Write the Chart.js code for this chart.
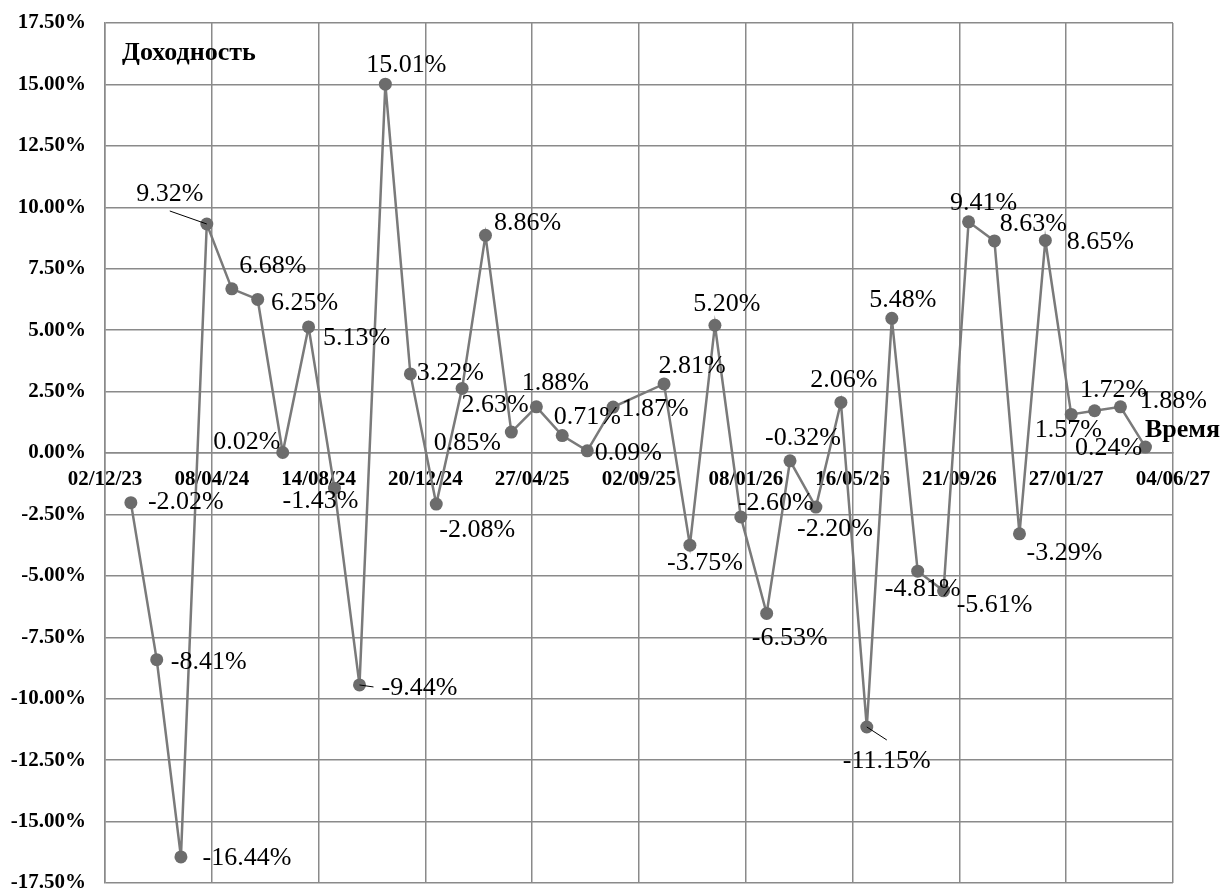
<!DOCTYPE html>
<html>
<head>
<meta charset="utf-8">
<script src="https://cdn.jsdelivr.net/npm/chart.js@4.4.1/dist/chart.umd.min.js"></script>
<style>
  body { margin: 0; background: #fff; }
</style>
</head>
<body>
<canvas id="chart" width="1220" height="891"></canvas>
<script>
// axis dates (every 128 days) and the monthly observations
const tickDates = ['02/12/23', '08/04/24', '14/08/24', '20/12/24', '27/04/25', '02/09/25',
                   '08/01/26', '16/05/26', '21/09/26', '27/01/27', '04/06/27'];
const pointDates = ['02/01/24', '02/02/24', '02/03/24', '02/04/24', '02/05/24', '02/06/24',
                    '02/07/24', '02/08/24', '02/09/24', '02/10/24', '02/11/24', '02/12/24',
                    '02/01/25', '02/02/25', '02/03/25', '02/04/25', '02/05/25', '02/06/25',
                    '02/07/25', '02/08/25', '02/10/25', '02/11/25', '02/12/25', '02/01/26',
                    '02/02/26', '02/03/26', '02/04/26', '02/05/26', '02/06/26', '02/07/26',
                    '02/08/26', '02/09/26', '02/10/26', '02/11/26', '02/12/26', '02/01/27',
                    '02/02/27', '02/03/27', '02/04/27', '02/05/27'];
const returns = [-2.02, -8.41, -16.44, 9.32, 6.68, 6.25, 0.02, 5.13, -1.43, -9.44,
                 15.01, 3.22, -2.08, 2.63, 8.86, 0.85, 1.88, 0.71, 0.09, 1.87,
                 2.81, -3.75, 5.20, -2.60, -6.53, -0.32, -2.20, 2.06, -11.15, 5.48,
                 -4.81, -5.61, 9.41, 8.63, -3.29, 8.65, 1.57, 1.72, 1.88, 0.24];

// where each value label sits relative to its point (like the hand-moved excel labels)
const labelShift = [[55, 0], [52, 3], [66, 1], [-37, -30], [41, -23], [47, 4], [-36, -10], [48, 11],
                    [-14, 13], [60, 3], [21, -19], [40, -1], [41, 26], [33, 17], [42, -12], [-44, 11],
                    [19, -24], [25, -18], [41, 2], [42, 2], [28, -18], [15, 18], [12, -21], [35, -14],
                    [23, 25], [13, -23], [19, 22], [3, -22], [20, 34], [11, -18], [5, 18], [51, 14],
                    [15, -19], [39, -17], [45, 19], [55, 2], [-3, 16], [19, -21], [53, -6], [-37, 1]];
// small leader lines from point to label
const leaders = { 3: [-37, -13], 9: [14, 2], 28: [20, 13] };

const serif = '"Liberation Serif", "Times New Roman", serif';
const gridGray = '#8a8a8a';

function toDay(s) {
  const [d, m, y] = s.split('/').map(Number);
  return Date.UTC(2000 + y, m - 1, d) / 86400000;
}
const day0 = toDay(tickDates[0]);

const pointLabels = {
  id: 'pointLabels',
  afterDatasetsDraw(chart) {
    const c = chart.ctx;
    const pts = chart.getDatasetMeta(0).data;
    c.save();
    c.strokeStyle = '#000';
    c.lineWidth = 1;
    Object.keys(leaders).forEach(k => {
      const p = pts[k];
      c.beginPath();
      c.moveTo(p.x, p.y);
      c.lineTo(p.x + leaders[k][0], p.y + leaders[k][1]);
      c.stroke();
    });
    c.font = '26px ' + serif;
    c.fillStyle = '#000';
    c.textAlign = 'center';
    c.textBaseline = 'middle';
    pts.forEach((p, i) => {
      c.fillText(returns[i].toFixed(2) + '%', p.x + labelShift[i][0], p.y + labelShift[i][1]);
    });
    // axis titles inside the plot
    c.font = 'bold 26px ' + serif;
    c.textAlign = 'left';
    c.fillText('Доходность', chart.chartArea.left + 17, 53);
    c.fillText('Время', 1145, chart.scales.y.getPixelForValue(0) - 23);
    c.restore();
  }
};

const ctx = document.getElementById('chart').getContext('2d');
new Chart(ctx, {
  type: 'line',
  data: {
    datasets: [{
      data: pointDates.map((d, i) => ({ x: toDay(d) - day0, y: returns[i] })),
      borderColor: '#7a7a7a',
      borderWidth: 2.5,
      pointRadius: 6.5,
      pointBackgroundColor: '#6c6c6c',
      pointBorderWidth: 0,
      tension: 0
    }]
  },
  options: {
    responsive: false,
    animation: false,
    layout: { padding: { left: 0, top: 23, right: 47, bottom: 8 } },
    plugins: { legend: { display: false }, tooltip: { enabled: false } },
    scales: {
      x: {
        type: 'linear',
        position: { y: 0 },
        min: 0,
        max: toDay(tickDates[tickDates.length - 1]) - day0,
        afterBuildTicks: s => { s.ticks = tickDates.map(t => ({ value: toDay(t) - day0 })); },
        afterFit: s => { s.paddingLeft = 0; s.paddingRight = 0; },
        ticks: {
          callback: (v, i) => tickDates[i],
          autoSkip: false,
          maxRotation: 0,
          padding: 14,
          color: '#000',
          font: { family: serif, size: 21, weight: 'bold' }
        },
        grid: { color: gridGray, lineWidth: 1.5, drawTicks: false },
        border: { color: gridGray, width: 1.5 }
      },
      y: {
        min: -17.5,
        max: 17.5,
        afterFit: s => { s.width = 105; s.paddingTop = 0; s.paddingBottom = 0; },
        ticks: {
          stepSize: 2.5,
          callback: v => v.toFixed(2) + '%',
          padding: 19,
          color: '#000',
          font: { family: serif, size: 21, weight: 'bold' }
        },
        grid: { color: gridGray, lineWidth: 1.5, drawTicks: false },
        border: { color: gridGray, width: 1.5 }
      }
    }
  },
  plugins: [pointLabels]
});
</script>
</body>
</html>
